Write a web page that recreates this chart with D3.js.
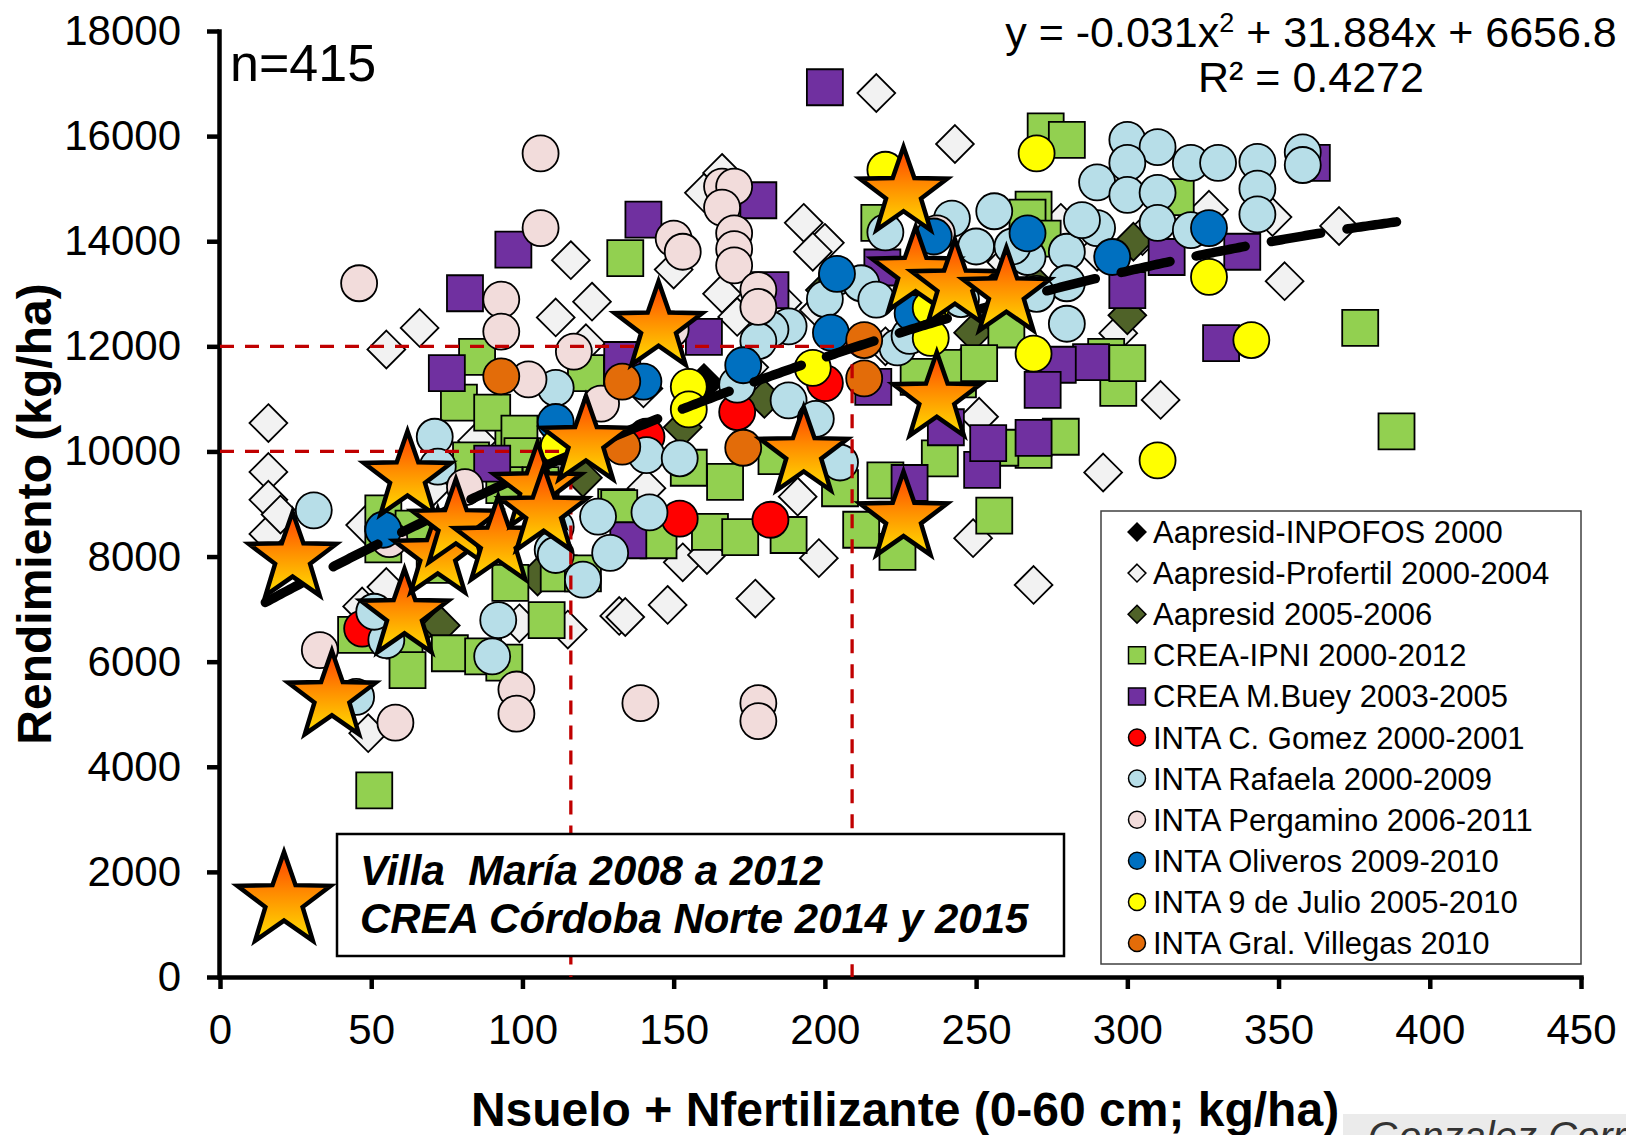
<!DOCTYPE html>
<html>
<head>
<meta charset="utf-8">
<script src="https://cdn.jsdelivr.net/npm/d3@7"></script>
<style>
  body { margin: 0; background: #fff; }
  svg text { font-family: "Liberation Sans", Arial, sans-serif; }
</style>
</head>
<body>
<svg id="chart" width="1626" height="1135"></svg>
<script>
// ---- Data: N disponible (suelo + fertilizante, kg/ha) vs rendimiento (kg/ha) ----
const xTicks = [0, 50, 100, 150, 200, 250, 300, 350, 400, 450];
const yTicks = [0, 2000, 4000, 6000, 8000, 10000, 12000, 14000, 16000, 18000];

const seriesNames = [
  "Aapresid-INPOFOS 2000",
  "Aapresid-Profertil 2000-2004",
  "Aapresid 2005-2006",
  "CREA-IPNI 2000-2012",
  "CREA M.Buey 2003-2005",
  "INTA C. Gomez 2000-2001",
  "INTA Rafaela 2000-2009",
  "INTA Pergamino 2006-2011",
  "INTA Oliveros 2009-2010",
  "INTA 9 de Julio 2005-2010",
  "INTA Gral. Villegas 2010"
];

const aapresidInpofos = [[105, 9800], [160, 11300], [230, 12800]];

const aapresidProfertil = [
  [16,10540],[16,9610],[16,9080],[16,8430],[55,11940],[66,12350],[55,7420],[47,7050],
  [49,4640],[99,6730],[115,6610],[132,6870],[116,13640],[123,12850],[111,12550],[121,12060],
  [134,6850],[148,7080],[153,7890],[161,8030],[141,9300],[177,7200],[191,9140],[198,7970],
  [249,8350],[269,7460],[251,10660],[217,16820],[243,15850],[193,14350],[200,13970],[196,13800],
  [166,15300],[160,14920],[150,13460],[166,13000],[171,12560],[186,12830],[198,12690],[352,13240],
  [370,14290],[311,10980],[292,9600],[297,12250],[348,14460],[278,14350],[327,14600],[48,8600],
  [20,8800],[70,9300],[85,10200],[140,11200],[175,11600],[220,12000],[245,11600],[260,13600],
  [290,13800],[305,14100]
];

const aapresid0506 = [
  [68,6750],[73,6690],[105,7620],[153,10460],[200,13070],[249,12260],[270,13160],
  [302,13990],[300,12590],[120,9500],[180,11000]
];

const creaIpni = [
  [51,3550],[45,6510],[61,6400],[62,5840],[76,6160],[87,6100],[94,5980],[96,7500],
  [108,6790],[112,7680],[120,7680],[162,8470],[172,8370],[188,8410],[145,8310],[212,8510],
  [224,8090],[220,9450],[238,9870],[256,8780],[205,9300],[167,9420],[155,9690],[269,10030],
  [258,10070],[273,16090],[280,15930],[297,11210],[377,12350],[316,14840],[269,14600],[293,11800],
  [300,11680],[389,10380],[278,10280],[134,13680],[85,11800],[79,10930],[121,11490],[97,10280],
  [83,9830],[54,8820],[131,8940],[218,14350],[260,12320],[231,11420],[244,11370],[64,8530],
  [54,8230],[71,7840],[90,10740],[99,10340],[132,8920],[267,14450],[243,11590],[251,11680],
  [272,14050],[100,9910],[106,9360],[94,9360],[184,9910]
];

const creaMBuey = [
  [200,16930],[140,14410],[178,14780],[97,13840],[81,13010],[75,11490],[182,13070],[160,12180],
  [219,13500],[90,9770],[133,11740],[135,8310],[228,9400],[240,10460],[252,9650],[254,10160],
  [269,10260],[361,15490],[313,13700],[338,13800],[300,13070],[331,12060],[288,11700],[277,11650],
  [272,11170],[216,11230]
];

const intaCGomez = [
  [152,8720],[182,8700],[171,10750],[141,10280],[200,11300],[47,6630]
];

const intaRafaela = [
  [300,15930],[310,15790],[321,15490],[330,15490],[343,15510],[343,15000],[343,14510],[358,15690],
  [358,15450],[290,15120],[300,15490],[300,14880],[310,14920],[310,14350],[321,14210],[290,14250],
  [280,13800],[280,13200],[280,12430],[267,13700],[220,14170],[242,14430],[256,14570],[250,13900],
  [204,13320],[212,13200],[217,12890],[224,11980],[188,12380],[182,12320],[171,11270],[188,10970],
  [141,9930],[152,9870],[142,8840],[205,9790],[197,10620],[31,8880],[71,10280],[111,11210],
  [125,8760],[111,8560],[110,8130],[72,9710],[92,6790],[90,6100],[120,7560],[129,8070],
  [111,8030],[55,6410],[45,5330],[51,6950],[233,13300],[262,13900],[270,13000],[285,14400],
  [245,12900],[228,12200],[178,12100],[200,12900]
];

const intaPergamino = [
  [46,13200],[93,12890],[93,12280],[117,11900],[102,11370],[126,10910],[81,9320],[150,14050],
  [153,13800],[166,15040],[170,15040],[166,14640],[170,14150],[170,13850],[170,13540],[178,13070],
  [178,12750],[106,15670],[106,14250],[139,5210],[178,5210],[178,4870],[98,5470],[98,5010],
  [58,4840],[33,6220],[56,8330],[237,14150],[149,12320]
];

const intaOliveros = [
  [54,8510],[111,10560],[140,11330],[173,11640],[202,12260],[204,13380],[229,12630],[236,14090],
  [267,14150],[295,13700],[327,14250]
];

const inta9deJulio = [
  [220,15360],[270,15670],[327,13320],[341,12120],[310,9830],[269,11860],[235,12730],[235,12160],
  [196,11590],[155,11230],[155,10800],[112,10090]
];

const intaGralVillegas = [
  [93,11430],[133,11330],[133,10090],[173,10070],[213,12120],[213,11390]
];

// Villa María 2008-2012 and CREA Córdoba Norte 2014-2015 sites
const villaMariaCrea = [
  [24,7970],[37,5330],[61,6890],[62,9510],[72,8030],[78,8600],[92,8270],[105,9300],[107,8840],
  [121,10180],[145,12360],[193,9970],[226,14920],[230,13400],[243,13160],[260,13010],[237,11010],
  [226,8740]
];

// Quadratic fit printed on the chart
const fitCoef = { a: -0.031, b: 31.884, c: 6656.8 };
const fitRange = [15, 389];
const fitLabel = "R² = 0.4272";
const sampleSize = "n=415";

// Reference guides (N requirement for 10000 and 12000 kg/ha)
const guides = [[116, 10000], [209, 12000]];

// ---- Appearance ----
const seriesData = [aapresidInpofos, aapresidProfertil, aapresid0506, creaIpni, creaMBuey,
  intaCGomez, intaRafaela, intaPergamino, intaOliveros, inta9deJulio, intaGralVillegas];
const seriesShape = ["diamond","diamond","diamond","square","square",
  "circle","circle","circle","circle","circle","circle"];
const seriesColor = ["#000000","#f2f2f2","#4f6228","#92d050","#7030a0",
  "#ff0000","#b7dee8","#f2dcdb","#0070c0","#ffff00","#e36c09"];

const x = d3.scaleLinear().domain([0, 450]).range([220, 1581]);
const y = d3.scaleLinear().domain([0, 18000]).range([977, 31]);

const svg = d3.select("#chart");

// star fill gradient
const defs = svg.append("defs");
const grad = defs.append("linearGradient").attr("id", "starGrad")
  .attr("x1", 0).attr("y1", 0).attr("x2", 0).attr("y2", 1);
grad.append("stop").attr("offset", "0%").attr("stop-color", "#ff3c00");
grad.append("stop").attr("offset", "45%").attr("stop-color", "#ff8a00");
grad.append("stop").attr("offset", "100%").attr("stop-color", "#ffe000");

function markerPath(shape, s) {
  // s = half-size of the marker
  if (shape === "square") return `M${-s},${-s}H${s}V${s}H${-s}Z`;
  if (shape === "diamond") { const d = s * 1.05; return `M0,${-d}L${d},0L0,${d}L${-d},0Z`; }
  return d3.arc()({ innerRadius: 0, outerRadius: s, startAngle: 0, endAngle: 2 * Math.PI });
}

function starPath(R, ratio) {
  const pts = [];
  for (let i = 0; i < 10; i++) {
    const r = i % 2 === 0 ? R : R * ratio;
    const a = -Math.PI / 2 + i * Math.PI / 5;
    pts.push([r * Math.cos(a), r * Math.sin(a)]);
  }
  return "M" + pts.map(p => p[0].toFixed(2) + "," + p[1].toFixed(2)).join("L") + "Z";
}

// ---- Axes ----
const yAxis = d3.axisLeft(y).tickValues(yTicks).tickSize(12).tickSizeOuter(0)
  .tickPadding(26).tickFormat(d3.format("d"));
const xAxis = d3.axisBottom(x).tickValues(xTicks).tickSize(12).tickSizeOuter(0)
  .tickPadding(25).tickFormat(d3.format("d"));

const gy = svg.append("g").attr("transform", "translate(219,0)").call(yAxis);
const gx = svg.append("g").attr("transform", "translate(0,977)").call(xAxis);
[gx, gy].forEach(g => {
  g.select(".domain").attr("stroke", "#000").attr("stroke-width", 4.5).attr("stroke-linecap", "square");
  g.selectAll(".tick line").attr("stroke", "#000").attr("stroke-width", 4.5);
  g.selectAll(".tick text").attr("font-size", 42).attr("fill", "#000")
    .attr("font-family", "'Liberation Sans', Arial, sans-serif");
});

// ---- Points ----
const pts = svg.append("g");
seriesData.forEach((data, i) => {
  pts.append("g").selectAll("path").data(data).join("path")
    .attr("d", markerPath(seriesShape[i], 18))
    .attr("transform", d => `translate(${x(d[0])},${y(d[1])})`)
    .attr("fill", seriesColor[i])
    .attr("stroke", "#000").attr("stroke-width", 1.8);
});

// ---- Guide lines ----
const gGuide = svg.append("g").attr("stroke", "#c00000").attr("stroke-width", 3.3)
  .attr("stroke-dasharray", "14,11").attr("fill", "none");
guides.forEach(([gxv, gyv]) => {
  gGuide.append("path").attr("d", `M${x(0)},${y(gyv)}H${x(gxv)}V${y(0)}`);
});

// ---- Fitted curve (dash pattern sized so both ends finish on a dash) ----
const fitX = d3.range(fitRange[0], fitRange[1] + 0.5, 1);
const fitLine = d3.line().x(d => x(d)).y(d => y(fitCoef.a * d * d + fitCoef.b * d + fitCoef.c));
const fitPath = svg.append("path").attr("d", fitLine(fitX))
  .attr("fill", "none").attr("stroke", "#000").attr("stroke-width", 9.5)
  .attr("stroke-linecap", "round");
const fitLen = fitPath.node().getTotalLength();
const dashOn = 50;
const nPeriods = Math.max(1, Math.round((fitLen - dashOn) / 75));
const dashOff = (fitLen - dashOn) / nPeriods - dashOn;
fitPath.attr("stroke-dasharray", `${dashOn},${dashOff.toFixed(2)}`);

// ---- Stars ----
svg.append("g").selectAll("path").data(villaMariaCrea).join("path")
  .attr("d", starPath(46, 0.4))
  .attr("transform", d => `translate(${x(d[0])},${y(d[1])})`)
  .attr("fill", "url(#starGrad)").attr("stroke", "#000").attr("stroke-width", 4.5)
  .attr("stroke-linejoin", "miter");

// ---- Texts ----
svg.append("text").attr("x", 230).attr("y", 81).attr("font-size", 52).text(sampleSize);

const eq = svg.append("text").attr("x", 1311).attr("y", 47).attr("font-size", 43)
  .attr("text-anchor", "middle");
eq.append("tspan").text(`y = ${fitCoef.a}x`);
eq.append("tspan").attr("font-size", 27).attr("dy", -15).text("2");
eq.append("tspan").attr("dy", 15).text(` + ${fitCoef.b}x + ${fitCoef.c}`);
svg.append("text").attr("x", 1311).attr("y", 92).attr("font-size", 43)
  .attr("text-anchor", "middle").text(fitLabel);

// axis titles
svg.append("text").attr("transform", "translate(51,514) rotate(-90)")
  .attr("text-anchor", "middle").attr("font-size", 48).attr("font-weight", "bold")
  .text("Rendimiento (kg/ha)");
svg.append("text").attr("x", 905).attr("y", 1126)
  .attr("text-anchor", "middle").attr("font-size", 48).attr("font-weight", "bold")
  .text("Nsuelo + Nfertilizante (0-60 cm; kg/ha)");

// ---- Legend of series ----
const lg = svg.append("g");
lg.append("rect").attr("x", 1101).attr("y", 511).attr("width", 480).attr("height", 453)
  .attr("fill", "#fff").attr("stroke", "#404040").attr("stroke-width", 1.5);
seriesNames.forEach((name, i) => {
  const cy = 532 + i * 41.1;
  lg.append("path").attr("d", markerPath(seriesShape[i], 8.5))
    .attr("transform", `translate(1137,${cy})`)
    .attr("fill", seriesColor[i]).attr("stroke", "#000").attr("stroke-width", 1.5);
  lg.append("text").attr("x", 1153).attr("y", cy + 11).attr("font-size", 31).text(name);
});

// ---- Star legend ----
svg.append("path").attr("d", starPath(49, 0.4))
  .attr("transform", "translate(284,901)")
  .attr("fill", "url(#starGrad)").attr("stroke", "#000").attr("stroke-width", 4.5);
svg.append("rect").attr("x", 337).attr("y", 834).attr("width", 727).attr("height", 122)
  .attr("fill", "#fff").attr("stroke", "#000").attr("stroke-width", 2.5);
const st = svg.append("text").attr("font-size", 42).attr("font-weight", "bold")
  .attr("font-style", "italic").style("white-space", "pre");
st.append("tspan").attr("x", 360).attr("y", 885).text("Villa  María 2008 a 2012");
st.append("tspan").attr("x", 360).attr("y", 933).text("CREA Córdoba Norte 2014 y 2015");

// ---- Source strip (runs off the page bottom) ----
svg.append("rect").attr("x", 1343).attr("y", 1114).attr("width", 283).attr("height", 21)
  .attr("fill", "#ebebeb");
svg.append("text").attr("x", 1368).attr("y", 1150).attr("font-size", 40)
  .attr("font-style", "italic").attr("fill", "#333").text("Gonzalez Correa");
</script>
</body>
</html>
